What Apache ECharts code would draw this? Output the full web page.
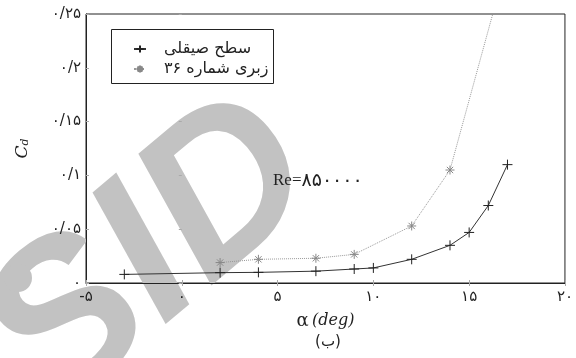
<!DOCTYPE html>
<html>
<head>
<meta charset="utf-8">
<script src="https://cdn.jsdelivr.net/npm/echarts@6/dist/echarts.min.js"></script>
<style>
  html, body { margin: 0; padding: 0; background: #fff; }
  #chart { width: 576px; height: 358px; }
</style>
</head>
<body>
<div id="chart"></div>
<script>
// Drag coefficient vs. angle of attack, Re = 850000
const alphaSmooth = [-3, 2, 4, 7, 9, 10, 12, 14, 15, 16, 17];
const cdSmooth    = [0.008, 0.0096, 0.0099, 0.011, 0.013, 0.014, 0.022, 0.035, 0.047, 0.072, 0.11];
const alphaRough  = [2, 4, 7, 9, 12, 14, 17];
const cdRough     = [0.019, 0.022, 0.023, 0.0266, 0.053, 0.105, 0.30];

const seriesNames = ['سطح صیقلی', 'زبری شماره ۳۶'];
const xTicks = [-5, 0, 5, 10, 15, 20];
const yTicks = [0, 0.05, 0.1, 0.15, 0.2, 0.25];
const reynoldsPrefix = 'Re=';
const reynoldsValue = '۸۵۰۰۰۰';
const xAxisTitle = 'α';
const xAxisUnit = '(deg)';
const figureTag = '(ب)';

const faDigits = '۰۱۲۳۴۵۶۷۸۹';
function toFa(s) {
  return String(s).replace(/[0-9]/g, d => faDigits[+d]).replace('.', '/');
}

const crossPath = 'path://M0,5 L10,5 M5,0 L5,10';
const starPath = 'path://M0,5 L10,5 M5,0 L5,10 M1.5,1.5 L8.5,8.5 M8.5,1.5 L1.5,8.5';

const chart = echarts.init(document.getElementById('chart'), null, { renderer: 'canvas' });

const grid = { left: 86, right: 11, top: 14, bottom: 75 };

chart.setOption({
  animation: false,
  backgroundColor: '#fff',
  grid: Object.assign({ show: true, borderColor: '#222', borderWidth: 1, backgroundColor: 'transparent' }, grid),
  graphic: [
    // faint site watermark behind the plot
    {
      type: 'text', z: 0, silent: true,
      x: 152, y: 258, rotation: 40 * Math.PI / 180,
      style: {
        text: 'SID', fill: '#c2c2c2', fontSize: 215, fontWeight: 'bold', fontStyle: 'italic',
        fontFamily: 'Liberation Sans', align: 'center', verticalAlign: 'middle'
      }
    },
    {
      type: 'circle', z: 0, silent: true,
      shape: { cx: 18, cy: 278, r: 14 },
      style: { fill: '#c2c2c2' }
    },
    // legend frame
    {
      type: 'rect', z: 11, silent: true,
      shape: { x: 111.5, y: 29.5, width: 162, height: 54 },
      style: { fill: '#fff', stroke: '#222', lineWidth: 1 }
    },
    {
      type: 'text', z: 10, silent: true,
      x: 273, y: 181,
      style: {
        text: '{r|' + reynoldsPrefix + '}{n|' + reynoldsValue + '}',
        verticalAlign: 'middle',
        rich: {
          r: { fontSize: 17, fontFamily: 'Liberation Serif', fill: '#222' },
          n: { fontSize: 19, fontFamily: 'DejaVu Sans', fill: '#222' }
        }
      }
    },
    {
      type: 'text', z: 10, silent: true,
      x: 328, y: 342,
      style: {
        text: figureTag, fill: '#222', fontSize: 15,
        fontFamily: 'DejaVu Sans', align: 'center', verticalAlign: 'middle'
      }
    }
  ],
  legend: {
    orient: 'vertical',
    left: 111, top: 29,
    padding: [12, 6, 6, 22],
    itemGap: 4,
    itemWidth: 12, itemHeight: 9,
    z: 12,
    data: seriesNames,
    formatter: name => '{t|' + name + '}',
    textStyle: {
      rich: {
        t: { fontSize: 16, lineHeight: 17, fontFamily: 'DejaVu Sans', color: '#222', padding: [0, 0, 0, 13] }
      }
    }
  },
  xAxis: [{
    type: 'value', min: xTicks[0], max: xTicks[xTicks.length - 1], interval: 5,
    name: '{a|' + xAxisTitle + '} {b|' + xAxisUnit + '}',
    nameLocation: 'middle', nameGap: 29,
    nameTextStyle: {
      rich: {
        a: { fontSize: 18, fontFamily: 'DejaVu Serif', color: '#222' },
        b: { fontSize: 16, fontFamily: 'DejaVu Serif', fontStyle: 'italic', color: '#222' }
      }
    },
    axisLine: { show: true, onZero: false, lineStyle: { color: '#222' } },
    axisTick: { show: true, inside: true, length: 3, lineStyle: { color: '#aaa' } },
    splitLine: { show: false },
    axisLabel: {
      margin: 7, fontSize: 15, fontFamily: 'DejaVu Sans', color: '#222',
      formatter: v => toFa(v)
    }
  }, {
    type: 'value', position: 'top', min: xTicks[0], max: xTicks[xTicks.length - 1], interval: 5,
    axisLine: { show: false },
    axisTick: { show: true, inside: true, length: 3, lineStyle: { color: '#aaa' } },
    axisLabel: { show: false }, splitLine: { show: false }
  }],
  yAxis: [{
    type: 'value', min: yTicks[0], max: yTicks[yTicks.length - 1], interval: 0.05,
    name: '{c|C}{d|d}',
    nameLocation: 'middle', nameGap: 55, nameRotate: 90,
    nameTextStyle: {
      rich: {
        c: { fontSize: 17, fontFamily: 'DejaVu Serif', fontStyle: 'italic', color: '#222' },
        d: { fontSize: 11, fontFamily: 'DejaVu Serif', fontStyle: 'italic', color: '#222', padding: [6, 0, 0, 0] }
      }
    },
    axisLine: { show: true, onZero: false, lineStyle: { color: '#222' } },
    axisTick: { show: true, inside: true, length: 3, lineStyle: { color: '#aaa' } },
    splitLine: { show: false },
    axisLabel: {
      margin: 5, fontSize: 15, fontFamily: 'DejaVu Sans', color: '#222',
      formatter: v => toFa(Math.round(v * 100) / 100)
    }
  }, {
    type: 'value', position: 'right', min: yTicks[0], max: yTicks[yTicks.length - 1], interval: 0.05,
    axisLine: { show: false },
    axisTick: { show: true, inside: true, length: 3, lineStyle: { color: '#aaa' } },
    axisLabel: { show: false }, splitLine: { show: false }
  }],
  series: [
    {
      name: seriesNames[0], type: 'line', z: 5,
      data: alphaSmooth.map((a, i) => [a, cdSmooth[i]]),
      symbol: crossPath, symbolSize: 10,
      itemStyle: { color: '#222', borderColor: '#222', borderWidth: 1 },
      lineStyle: { color: '#333', width: 1 }
    },
    {
      name: seriesNames[1], type: 'line', z: 4,
      data: alphaRough.map((a, i) => [a, cdRough[i]]),
      symbol: starPath, symbolSize: 9,
      itemStyle: { color: '#888', borderColor: '#888', borderWidth: 1 },
      lineStyle: { color: '#999', width: 1, type: 'dotted' }
    }
  ]
});
</script>
</body>
</html>
